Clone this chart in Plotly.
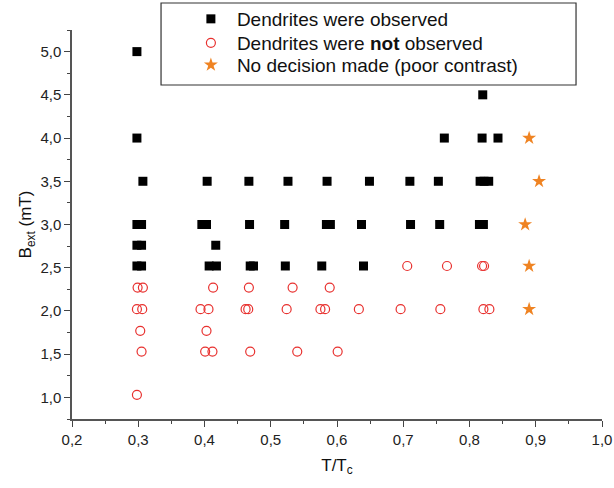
import plotly.graph_objects as go

# Dendrites were observed (black squares)
obs_x = [0.298, 0.298, 0.307, 0.298, 0.305, 0.298, 0.305, 0.298, 0.305,
         0.404, 0.467, 0.526, 0.585, 0.649, 0.710, 0.753, 0.816, 0.822, 0.829,
         0.396, 0.403, 0.468, 0.521, 0.584, 0.590, 0.637, 0.711, 0.755, 0.815, 0.821,
         0.417,
         0.407, 0.418, 0.469, 0.474, 0.522, 0.577, 0.640,
         0.762, 0.819, 0.843,
         0.820]
obs_y = [5.0, 4.0, 3.5, 3.0, 3.0, 2.76, 2.76, 2.52, 2.52,
         3.5, 3.5, 3.5, 3.5, 3.5, 3.5, 3.5, 3.5, 3.5, 3.5,
         3.0, 3.0, 3.0, 3.0, 3.0, 3.0, 3.0, 3.0, 3.0, 3.0, 3.0,
         2.76,
         2.52, 2.52, 2.52, 2.52, 2.52, 2.52, 2.52,
         4.0, 4.0, 4.0,
         4.5]

# Dendrites were not observed (red open circles)
not_x = [0.299, 0.307, 0.413, 0.467, 0.533, 0.589,
         0.298, 0.306, 0.394, 0.406, 0.462, 0.466, 0.524, 0.575, 0.582, 0.633, 0.696, 0.756, 0.821, 0.830,
         0.303, 0.403,
         0.305, 0.401, 0.412, 0.469, 0.540, 0.601,
         0.298,
         0.706, 0.766, 0.819, 0.822]
not_y = [2.27, 2.27, 2.27, 2.27, 2.27, 2.27,
         2.02, 2.02, 2.02, 2.02, 2.02, 2.02, 2.02, 2.02, 2.02, 2.02, 2.02, 2.02, 2.02, 2.02,
         1.77, 1.77,
         1.53, 1.53, 1.53, 1.53, 1.53, 1.53,
         1.03,
         2.52, 2.52, 2.52, 2.52]

# No decision made (orange stars)
nd_x = [0.890, 0.905, 0.884, 0.890, 0.890]
nd_y = [4.0, 3.5, 3.0, 2.52, 2.02]

font_family = "Liberation Sans, Arial, sans-serif"

fig = go.Figure()
fig.add_trace(go.Scatter(x=obs_x, y=obs_y, mode="markers", name="Dendrites were observed",
                         legend="legend", showlegend=True,
                         marker=dict(symbol="square", size=9, color="black", line=dict(width=0))))
fig.add_trace(go.Scatter(x=not_x, y=not_y, mode="markers", name="Dendrites were <b>not</b> observed",
                         legend="legend2", showlegend=True,
                         marker=dict(symbol="circle-open", size=9, color="#e8312f", line=dict(width=1.2))))
fig.add_trace(go.Scatter(x=nd_x, y=nd_y, mode="markers", name="No decision made (poor contrast)",
                         legend="legend3", showlegend=True,
                         marker=dict(symbol="star", size=10.5, color="#ef8322", line=dict(width=0))))

axis_common = dict(showline=True, linecolor="#555", linewidth=1.5, showgrid=False, zeroline=False,
                   ticks="outside", ticklen=6, tickwidth=1.2, tickcolor="#444",
                   tickfont=dict(size=15, color="#222", family=font_family),
                   mirror=False)

leg_common = dict(x=0.213, xanchor="left", yanchor="middle", borderwidth=0,
                  bgcolor="rgba(0,0,0,0)", itemwidth=42,
                  font=dict(size=19, family=font_family, color="#111"))

fig.update_layout(
    width=614, height=488,
    showlegend=True,
    margin=dict(l=72, r=12, t=30, b=69, autoexpand=False),
    paper_bgcolor="white", plot_bgcolor="white",
    separators=",.",
    font=dict(family=font_family, color="#111"),
    xaxis=dict(range=[0.2, 1.0], dtick=0.1, tick0=0.2, tickformat=".1f",
               title=dict(text="T/T<sub>c</sub>", font=dict(size=17), standoff=12),
               minor=dict(ticks="outside", ticklen=3, dtick=0.05, tickcolor="#444", tickwidth=1.2),
               **axis_common),
    yaxis=dict(range=[0.75, 5.25], dtick=0.5, tick0=0, tickformat=".1f",
               title=dict(text="B<sub>ext</sub> (mT)", font=dict(size=17), standoff=4),
               minor=dict(ticks="outside", ticklen=3, dtick=0.25, tickcolor="#444", tickwidth=1.2),
               **axis_common),
    legend=dict(y=1.0283, visible=True, **leg_common),
    legend2=dict(y=0.9666, visible=True, **leg_common),
    legend3=dict(y=0.910, visible=True, **leg_common),
    shapes=[dict(type="rect", xref="paper", yref="paper", x0=0.168, x1=0.951, y0=0.8586, y1=1.0694,
                 line=dict(color="#333", width=1.2), fillcolor="rgba(0,0,0,0)", layer="below")],
)

fig.write_html("out.html", config={"displayModeBar": False},
               post_script="document.body.style.margin='0';document.body.style.overflow='hidden';")
